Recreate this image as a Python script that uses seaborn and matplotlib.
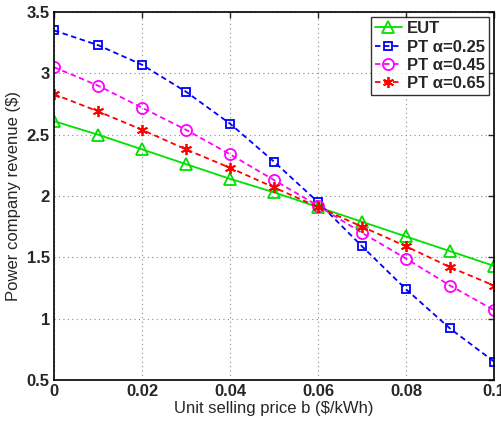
import seaborn as sns
import matplotlib.pyplot as plt
import pandas as pd

price = [0, 0.01, 0.02, 0.03, 0.04, 0.05, 0.06, 0.07, 0.08, 0.09, 0.1]
eut = [2.61, 2.50, 2.38, 2.26, 2.14, 2.03, 1.91, 1.79, 1.67, 1.55, 1.43]
pt_025 = [3.35, 3.23, 3.07, 2.85, 2.59, 2.28, 1.95, 1.59, 1.24, 0.92, 0.65]
pt_045 = [3.05, 2.90, 2.72, 2.54, 2.34, 2.13, 1.92, 1.70, 1.49, 1.27, 1.07]
pt_065 = [2.83, 2.69, 2.54, 2.38, 2.23, 2.07, 1.91, 1.75, 1.59, 1.42, 1.27]

sns.set_style('white')
plt.rcParams['font.family'] = ['Liberation Sans', 'DejaVu Sans']

fig = plt.figure(figsize=(5.02, 4.21), dpi=100)
ax = fig.add_axes([54 / 502, 41 / 421, 440 / 502, 368 / 421])

series = [
    ('EUT', eut, '#00e000', '-', '^', 'none', 8),
    ('PT \u03b1=0.25', pt_025, '#0000ff', (3, 2), 's', 'none', 6),
    ('PT \u03b1=0.45', pt_045, '#ff00ff', (3, 2), 'o', 'none', 8),
    ('PT \u03b1=0.65', pt_065, '#ff0000', (3, 2), (6, 2, 0), '#ff0000', 8),
]

for label, vals, color, ls, marker, mfc, ms in series:
    df = pd.DataFrame({'b': price, 'rev': vals})
    sns.lineplot(data=df, x='b', y='rev', ax=ax, color=color, label=label,
                 marker=marker, markersize=ms, markerfacecolor=mfc,
                 markeredgecolor=color, markeredgewidth=1.3, linewidth=1.3)
    if ls != '-':
        ax.lines[-1].set_dashes(ls)

ax.set_xlim(0, 0.1)
ax.set_ylim(0.5, 3.5)
ax.set_xticks([0, 0.02, 0.04, 0.06, 0.08, 0.1])
ax.set_xticklabels(['0', '0.02', '0.04', '0.06', '0.08', '0.1'])
ax.set_yticks([0.5, 1, 1.5, 2, 2.5, 3, 3.5])
ax.set_yticklabels(['0.5', '1', '1.5', '2', '2.5', '3', '3.5'])
ax.grid(True, linestyle=(0, (1, 3)), color='#888888', linewidth=0.8)
ax.tick_params(direction='in', length=4, labelsize=12, width=1, top=True, right=True, pad=3)
for t in ax.get_xticklabels() + ax.get_yticklabels():
    t.set_fontweight('bold')
for sp in ax.spines.values():
    sp.set_color('black')
    sp.set_linewidth(1.2)

ax.set_xlabel('Unit selling price b ($/kWh)', fontsize=12, labelpad=1)
ax.set_ylabel('Power company revenue ($)', fontsize=12, labelpad=4)

leg = ax.legend(loc='upper right', fontsize=12, frameon=True, fancybox=False,
                edgecolor='black', borderpad=0.25, labelspacing=0.2,
                handlelength=1.6, handletextpad=0.3, borderaxespad=0.3)
leg.get_frame().set_linewidth(1.0)
for t in leg.get_texts():
    t.set_fontweight('bold')

fig.savefig('out.png', dpi=100)
